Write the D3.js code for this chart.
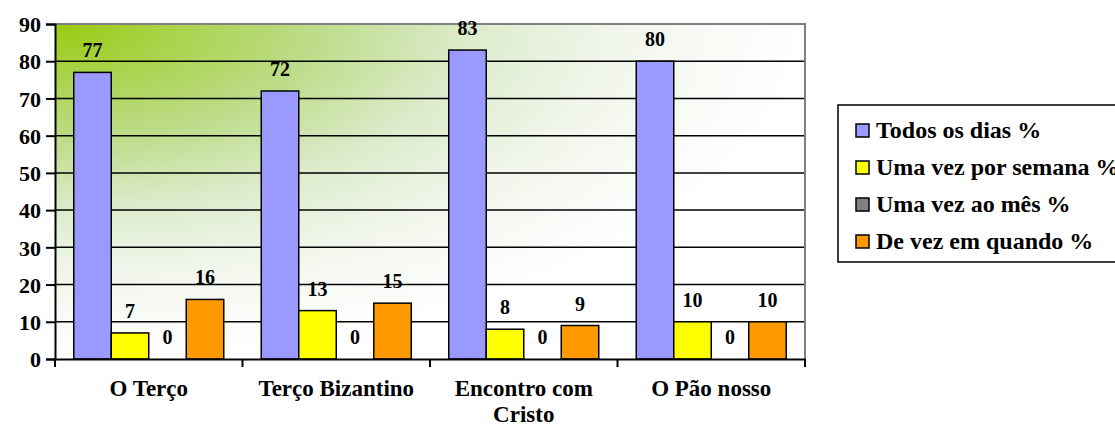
<!DOCTYPE html>
<html>
<head>
<meta charset="utf-8">
<script src="https://cdn.jsdelivr.net/npm/d3@7"></script>
<style>
  body { margin: 0; background: #fff; }
  svg text { font-family: "Liberation Serif", "Times New Roman", serif; font-weight: bold; fill: #000; }
</style>
</head>
<body>
<svg id="chart" width="1115" height="427"></svg>
<script>
var categories = ["O Terço", "Terço Bizantino", "Encontro com Cristo", "O Pão nosso"];
var seriesNames = ["Todos os dias %", "Uma vez por semana %", "Uma vez ao mês %", "De vez em quando %"];
var todosOsDias = [77, 72, 83, 80];
var umaVezSemana = [7, 13, 8, 10];
var umaVezMes = [0, 0, 0, 0];
var deVezEmQuando = [16, 15, 9, 10];
var colors = ["#9999ff", "#ffff00", "#808080", "#ff9900"];
var yTicks = [0, 10, 20, 30, 40, 50, 60, 70, 80, 90];

var series = [todosOsDias, umaVezSemana, umaVezMes, deVezEmQuando];

var svg = d3.select("#chart");
var plotLeft = 55, plotTop = 24, plotRight = 805, plotBottom = 359;

var x = d3.scaleBand().domain(categories).range([plotLeft, plotRight]).paddingInner(0).paddingOuter(0);
var xs = d3.scaleBand().domain(d3.range(series.length)).range([0, x.bandwidth()]).paddingInner(0).paddingOuter(0.5);
var y = d3.scaleLinear().domain([0, 90]).range([plotBottom, plotTop]);

// background gradient
var defs = svg.append("defs");
var grad = defs.append("radialGradient").attr("id", "bg")
  .attr("cx", 0).attr("cy", 0).attr("r", 1).attr("fx", 0).attr("fy", 0);
[[0, "#98cb10"], [0.15, "#a8d348"], [0.35, "#bddc8a"], [0.55, "#dcebcb"], [0.75, "#f1f6ec"], [1, "#ffffff"]]
  .forEach(function(s) { grad.append("stop").attr("offset", s[0]).attr("stop-color", s[1]); });

svg.append("rect").attr("x", plotLeft).attr("y", plotTop)
  .attr("width", plotRight - plotLeft).attr("height", plotBottom - plotTop)
  .attr("fill", "url(#bg)");

// gridlines
svg.append("g").selectAll("line").data(yTicks.filter(function(d) { return d > 0 && d < 90; }))
  .enter().append("line")
  .attr("x1", plotLeft).attr("x2", plotRight)
  .attr("y1", function(d) { return y(d); }).attr("y2", function(d) { return y(d); })
  .attr("stroke", "#000").attr("stroke-width", 1.5);

// plot border top/right
svg.append("path").attr("d", "M" + plotLeft + "," + plotTop + "H" + plotRight + "V" + plotBottom)
  .attr("fill", "none").attr("stroke", "#808080").attr("stroke-width", 2);

// bars
var groups = svg.append("g").selectAll("g").data(series).enter().append("g");
groups.each(function(vals, si) {
  var g = d3.select(this);
  g.selectAll("rect").data(vals).enter().append("rect")
    .attr("x", function(d, i) { return x(categories[i]) + xs(si); })
    .attr("y", function(d) { return y(d); })
    .attr("width", xs.bandwidth())
    .attr("height", function(d) { return plotBottom - y(d); })
    .attr("fill", colors[si]).attr("stroke", "#000").attr("stroke-width", 1.5);
  g.selectAll("text").data(vals).enter().append("text")
    .attr("x", function(d, i) { return x(categories[i]) + xs(si) + xs.bandwidth() / 2; })
    .attr("y", function(d) { return y(d) - 15; })
    .attr("text-anchor", "middle").style("font-size", "20px")
    .text(function(d) { return d; });
});

// y axis
var yAxis = svg.append("g").attr("transform", "translate(" + plotLeft + ",0)")
  .call(d3.axisLeft(y).tickValues(yTicks).tickSize(9).tickPadding(5));
yAxis.select(".domain").attr("stroke", "#000").attr("stroke-width", 2);
yAxis.selectAll(".tick line").attr("stroke", "#000").attr("stroke-width", 2);
yAxis.selectAll("text").style("font-size", "22px").attr("dy", "0.35em");

// x axis
var xAxis = svg.append("g").attr("transform", "translate(0," + plotBottom + ")")
  .call(d3.axisBottom(x).tickSize(0).tickPadding(0));
xAxis.select(".domain").attr("stroke", "#000").attr("stroke-width", 2);
xAxis.selectAll(".tick text").remove();
svg.append("g").selectAll("line").data(categories.concat(["end"]))
  .enter().append("line")
  .attr("x1", function(d, i) { return plotLeft + i * x.bandwidth(); })
  .attr("x2", function(d, i) { return plotLeft + i * x.bandwidth(); })
  .attr("y1", plotBottom).attr("y2", plotBottom + 8)
  .attr("stroke", "#000").attr("stroke-width", 2);

// category labels, wrapped
svg.append("g").selectAll("text").data(categories).enter().append("text")
  .attr("x", function(d) { return x(d) + x.bandwidth() / 2; })
  .attr("y", 396).attr("text-anchor", "middle").style("font-size", "23px")
  .each(function(d) {
    var el = d3.select(this);
    var words = d.split(" "), line = [];
    var tspan = el.append("tspan").attr("x", el.attr("x"));
    words.forEach(function(w) {
      line.push(w);
      tspan.text(line.join(" "));
      if (tspan.node().getComputedTextLength() > 165 && line.length > 1) {
        line.pop();
        tspan.text(line.join(" "));
        line = [w];
        tspan = el.append("tspan").attr("x", el.attr("x")).attr("dy", 26).text(w);
      }
    });
  });

// legend
var legend = svg.append("g");
legend.append("rect").attr("x", 838).attr("y", 105).attr("width", 300).attr("height", 157)
  .attr("fill", "#fff").attr("stroke", "#000").attr("stroke-width", 1.5);
var items = legend.selectAll("g.item").data(seriesNames).enter().append("g").attr("class", "item")
  .attr("transform", function(d, i) { return "translate(856," + (124 + i * 37) + ")"; });
items.append("rect").attr("width", 13).attr("height", 13)
  .attr("fill", function(d, i) { return colors[i]; }).attr("stroke", "#000").attr("stroke-width", 1.5);
items.append("text").attr("x", 20).attr("y", 14).style("font-size", "24px").text(function(d) { return d; });
</script>
</body>
</html>
